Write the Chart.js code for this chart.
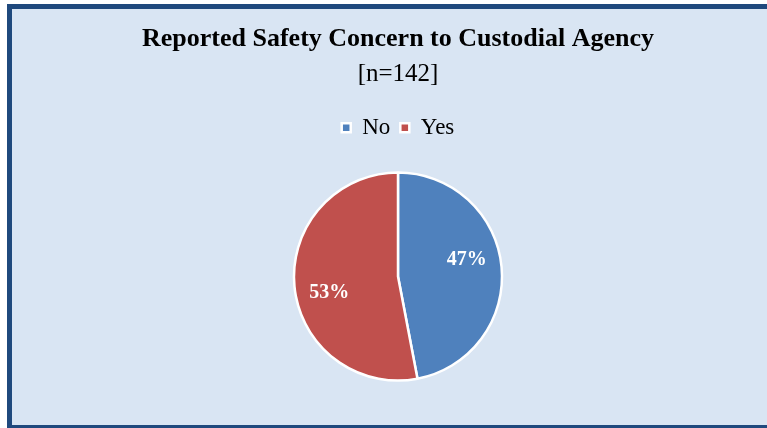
<!DOCTYPE html>
<html>
<head>
<meta charset="utf-8">
<script src="https://cdn.jsdelivr.net/npm/chart.js@4"></script>
<style>
  html, body { margin:0; padding:0; background:#fff; overflow:hidden; width:767px; height:428px; }
  #frame { position:absolute; left:7px; top:4px; width:772px; height:416px;
           border:5px solid #1F497D; background:#D9E5F3; }
  #wrap { position:relative; width:772px; height:416px; }
</style>
</head>
<body>
<div id="frame"><div id="wrap"><canvas id="pie"></canvas></div></div>
<script>
// data
const labels = ['No', 'Yes'];
const shares = [47, 53];
const colors = ['#4F81BD', '#C0504D'];
const chartTitle = 'Reported Safety Concern to Custodial Agency';
const chartSub = '[n=142]';

const serif = "'Liberation Serif', 'Times New Roman', serif";

// write the % inside each slice (a bit anticlockwise of the middle, like Excel's best fit)
const sliceLabels = {
  id: 'sliceLabels',
  afterDatasetsDraw(chart){
    const ctx = chart.ctx;
    const meta = chart.getDatasetMeta(0);
    ctx.save();
    ctx.fillStyle = '#fff';
    ctx.font = 'bold 20px ' + serif;
    ctx.textAlign = 'center';
    ctx.textBaseline = 'middle';
    meta.data.forEach((arc, i) => {
      const p = arc.getProps(['x','y','startAngle','endAngle','outerRadius'], true);
      const mid = (p.startAngle + p.endAngle) / 2 - 0.14;
      const r = p.outerRadius * 0.68;
      ctx.fillText(shares[i] + '%', p.x + Math.cos(mid) * r, p.y + Math.sin(mid) * r);
    });
    ctx.restore();
  }
};

new Chart(document.getElementById('pie'), {
  type: 'pie',
  data: {
    labels,
    datasets: [{ data: shares, backgroundColor: colors, borderColor: '#fff', borderWidth: 2.5 }]
  },
  options: {
    responsive: true,
    maintainAspectRatio: false,
    animation: false,
    radius: 104,
    layout: { padding: { top: 0, bottom: 21 } },
    plugins: {
      title: { display: true, text: chartTitle, color: '#000',
               font: { family: serif, size: 26, weight: 'bold' }, padding: { top: 15, bottom: 4 } },
      subtitle: { display: true, text: chartSub, color: '#000',
                  font: { family: serif, size: 25 }, padding: { top: 0, bottom: 17 } },
      legend: { position: 'top',
                labels: { color: '#000', font: { family: serif, size: 23 }, boxWidth: 9, boxHeight: 9, padding: 10 } },
      tooltip: { enabled: false }
    }
  },
  plugins: [sliceLabels]
});
</script>
</body>
</html>
